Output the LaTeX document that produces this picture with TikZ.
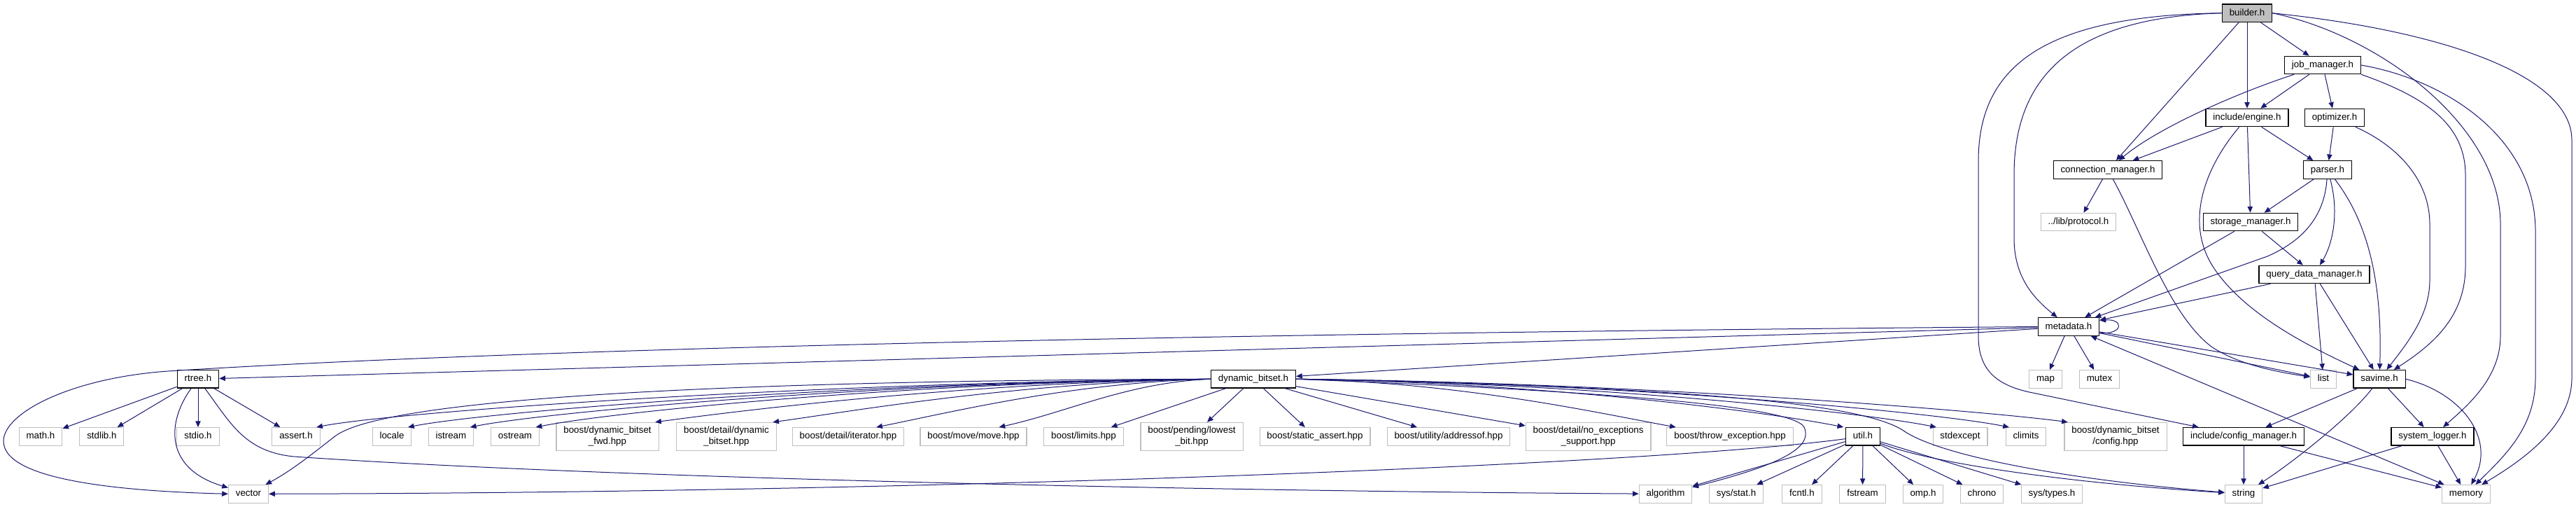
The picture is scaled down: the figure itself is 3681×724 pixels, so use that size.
\documentclass[tikz,border=0pt]{standalone}
\usepackage{fontspec}
\setmainfont{Liberation Sans}
\usetikzlibrary{arrows.meta,calc}
\definecolor{edgeblue}{HTML}{191970}
\definecolor{boxgray}{HTML}{BFBFBF}

\begin{document}
\begin{tikzpicture}[x=0.75pt,y=-0.75pt,
  >={Triangle[length=6.5pt,width=5.5pt]},
  file/.style={draw=black,line width=0.9pt,fill=white,font=\fontsize{10}{12}\selectfont,inner xsep=7.8pt,inner ysep=4.7pt,text height=7.5pt,text depth=2.2pt},
  sysfile/.style={file,draw=boxgray,line width=0.8pt},
  twoline/.style={align=center,text height={},text depth={},inner ysep=4.3pt},
  dep/.style={->,draw=edgeblue,line width=0.75pt}]
  \useasboundingbox (0,0) rectangle (3681,724);

  \node[file,fill=boxgray] (builder) at (3211,18.7) {builder.h};
  \node[file] (jobmgr) at (3319,93) {job\_manager.h};
  \node[file] (engine) at (3211,168) {include/engine.h};
  \node[file] (optim) at (3336,168) {optimizer.h};
  \node[file] (connmgr) at (3012,242.5) {connection\_manager.h};
  \node[file] (parser) at (3326,242.5) {parser.h};
  \node[sysfile] (protocol) at (2970,317) {../lib/protocol.h};
  \node[file] (storage) at (3216,317) {storage\_manager.h};
  \node[file] (querydm) at (3307,392) {query\_data\_manager.h};
  \node[file] (metadata) at (2956,466.5) {metadata.h};

  \node[file] (rtree) at (283,541.3) {rtree.h};
  \node[file] (dynbitset) at (1791,541.3) {dynamic\_bitset.h};
  \node[sysfile] (map) at (2923,541.3) {map};
  \node[sysfile] (mutex) at (3000,541.3) {mutex};
  \node[sysfile] (list) at (3320,541.3) {list};
  \node[file] (savime) at (3400,541.3) {savime.h};

  \node[sysfile] (mathh) at (58,623.3) {math.h};
  \node[sysfile] (stdlibh) at (145.4,623.3) {stdlib.h};
  \node[sysfile] (stdioh) at (283,623.3) {stdio.h};
  \node[sysfile] (asserth) at (423,623.3) {assert.h};
  \node[sysfile] (locale) at (560,623.3) {locale};
  \node[sysfile] (istream) at (644.4,623.3) {istream};
  \node[sysfile] (ostream) at (736,623.3) {ostream};
  \node[sysfile,twoline] (bsfwd) at (868,623.3) {boost/dynamic\_bitset\\\_fwd.hpp};
  \node[sysfile,twoline] (bdetaildyn) at (1038,623.3) {boost/detail/dynamic\\\_bitset.hpp};
  \node[sysfile] (biter) at (1212,623.3) {boost/detail/iterator.hpp};
  \node[sysfile] (bmove) at (1391,623.3) {boost/move/move.hpp};
  \node[sysfile] (blimits) at (1548.5,623.3) {boost/limits.hpp};
  \node[sysfile,twoline] (blowest) at (1703,623.3) {boost/pending/lowest\\\_bit.hpp};
  \node[sysfile] (bstatic) at (1879,623.3) {boost/static\_assert.hpp};
  \node[sysfile] (baddr) at (2070,623.3) {boost/utility/addressof.hpp};
  \node[sysfile,twoline] (bnoexc) at (2269.6,623.3) {boost/detail/no\_exceptions\\\_support.hpp};
  \node[sysfile] (bthrow) at (2472,623.3) {boost/throw\_exception.hpp};
  \node[file] (util) at (2662,623.3) {util.h};
  \node[sysfile] (stdexcept) at (2801,623.3) {stdexcept};
  \node[sysfile] (climits) at (2895,623.3) {climits};
  \node[sysfile,twoline] (bconfig) at (3023,623.3) {boost/dynamic\_bitset\\/config.hpp};
  \node[file] (cfgmgr) at (3206,623.3) {include/config\_manager.h};
  \node[file] (syslog) at (3476,623.3) {system\_logger.h};

  \node[sysfile] (vector) at (355,705.3) {vector};
  \node[sysfile] (algorithm) at (2380,705.3) {algorithm};
  \node[sysfile] (sysstat) at (2481,705.3) {sys/stat.h};
  \node[sysfile] (fcntl) at (2575,705.3) {fcntl.h};
  \node[sysfile] (fstream) at (2661.5,705.3) {fstream};
  \node[sysfile] (omp) at (2748,705.3) {omp.h};
  \node[sysfile] (chrono) at (2832,705.3) {chrono};
  \node[sysfile] (systypes) at (2932,705.3) {sys/types.h};
  \node[sysfile] (string) at (3206,705.3) {string};
  \node[sysfile] (memory) at (3524,705.3) {memory};

  \draw[dep] (builder) -- (jobmgr);
  \draw[dep] (builder) -- (engine);
  \draw[dep] (builder) -- (connmgr);
  \draw[dep] (builder.west) .. controls (2960,25) and (2878,110) .. (2878,250) -- (2878,340) .. controls (2878,395) and (2905,425) .. (metadata);
  \draw[dep] (builder.west) .. controls (2920,22) and (2827,95) .. (2827,230) -- (2827,480) .. controls (2827,530) and (2855,550) .. (2900,560) -- (cfgmgr);
  \draw[dep] (builder.east) .. controls (3400,50) and (3573,180) .. (3573,320) -- (3573,480) .. controls (3573,540) and (3525,580) .. (syslog);
  \draw[dep] (builder.east) .. controls (3500,45) and (3675,110) .. (3675,200) -- (3675,540) .. controls (3675,610) and (3600,660) .. (memory);

  \draw[dep] (jobmgr) .. controls (3190,135) and (3080,185) .. (connmgr);
  \draw[dep] (jobmgr) -- (engine);
  \draw[dep] (jobmgr) -- (optim);
  \draw[dep] (jobmgr.south east) .. controls (3470,140) and (3523,180) .. (3523,250) -- (3523,380) .. controls (3523,450) and (3480,490) .. (savime);
  \draw[dep] (jobmgr.east) .. controls (3500,115) and (3623,200) .. (3623,330) -- (3623,540) .. controls (3623,610) and (3580,650) .. (memory);

  \draw[dep] (engine) -- (connmgr);
  \draw[dep] (engine) -- (parser);
  \draw[dep] (engine) -- (storage);
  \draw[dep] (engine) .. controls (3150,240) and (3120,320) .. (3165,385) .. controls (3210,450) and (3300,495) .. (savime);

  \draw[dep] (optim) -- (parser);
  \draw[dep] (optim) .. controls (3430,210) and (3472,260) .. (3472,320) -- (3472,400) .. controls (3472,450) and (3440,490) .. (savime);

  \draw[dep] (connmgr) -- (protocol);
  \draw[dep] (connmgr) .. controls (3060,330) and (3100,450) .. (3160,495) .. controls (3200,522) and (3260,532) .. (list);

  \draw[dep] (parser) -- (storage);
  \draw[dep] (parser) .. controls (3342,300) and (3335,345) .. (querydm);
  \draw[dep] (parser) .. controls (3322,300) and (3300,340) .. (3240,366) -- (metadata);
  \draw[dep] (parser) .. controls (3378,310) and (3405,390) .. (savime);

  \draw[dep] (storage) -- (metadata);
  \draw[dep] (storage) -- (querydm);

  \draw[dep] (querydm) -- (metadata);
  \draw[dep] (querydm) -- (list);
  \draw[dep] (querydm) -- (savime);

  \draw[dep] ($(metadata.east)+(0,9)$) .. controls (3035,478) and (3035,455) .. ($(metadata.east)+(0,-9)$);
  \draw[dep] (metadata) -- (map);
  \draw[dep] (metadata) -- (mutex);
  \draw[dep] (metadata) -- (list);
  \draw[dep] (metadata) -- (savime);
  \draw[dep,<->] (metadata) -- (memory);
  \draw[dep] (metadata) -- (rtree);
  \draw[dep] (metadata) -- (dynbitset);
  \draw[dep] (metadata.west) .. controls (2200,472) and (900,488) .. (240,530) .. controls (100,540) and (5,590) .. (5,630) .. controls (5,690) and (200,702) .. (vector.west);

  \draw[dep] (rtree) -- (mathh);
  \draw[dep] (rtree) -- (stdlibh);
  \draw[dep] (rtree) -- (stdioh);
  \draw[dep] (rtree) -- (asserth);
  \draw[dep] (rtree) .. controls (240,600) and (232,668) .. (vector);
  \draw[dep] (rtree) .. controls (330,605) and (350,645) .. (420,652) .. controls (900,685) and (1800,702) .. (algorithm);

  \draw[dep] (dynbitset.west) .. controls (1100,543) and (560,565) .. (480,622) .. controls (450,645) and (420,670) .. (vector);
  \draw[dep] (dynbitset.west) .. controls +(-572,5) and +(110,-22) .. ([xshift=-4pt]asserth.north east);
  \draw[dep] (dynbitset.west) .. controls +(-514,5) and +(110,-22) .. ([xshift=-4pt]locale.north east);
  \draw[dep] (dynbitset.west) .. controls +(-474,5) and +(110,-22) .. ([xshift=-4pt]istream.north east);
  \draw[dep] (dynbitset.west) .. controls +(-432,5) and +(110,-22) .. ([xshift=-4pt]ostream.north east);
  \draw[dep] (dynbitset.west) .. controls +(-355,5) and +(110,-15) .. ([xshift=-4pt]bsfwd.north east);
  \draw[dep] (dynbitset.west) .. controls +(-279,5) and +(110,-15) .. ([xshift=-4pt]bdetaildyn.north east);
  \draw[dep] (dynbitset.west) .. controls +(-198,5) and +(110,-22) .. ([xshift=-30pt]biter.north east);
  \draw[dep] (dynbitset.west) .. controls +(-119,5) and +(100,-22) .. ([xshift=-30pt]bmove.north east);
  \draw[dep] (dynbitset) -- (blimits);
  \draw[dep] (dynbitset) -- (blowest);
  \draw[dep] (dynbitset) -- (bstatic);
  \draw[dep] (dynbitset) -- (baddr);
  \draw[dep] (dynbitset) -- (bnoexc);
  \draw[dep] (dynbitset.east) .. controls +(239,5) and +(-110,-20) .. ([xshift=10pt]bthrow.north west);
  \draw[dep] (dynbitset.east) .. controls +(353,5) and +(-110,-22) .. ([xshift=-2pt]util.north west);
  \draw[dep] (dynbitset.east) .. controls +(410,5) and +(-110,-22) .. ([xshift=4pt]stdexcept.north west);
  \draw[dep] (dynbitset.east) .. controls +(456,5) and +(-110,-22) .. ([xshift=4pt]climits.north west);
  \draw[dep] (dynbitset.east) .. controls +(494,5) and +(-110,-15) .. ([xshift=4pt]bconfig.north west);
  \draw[dep] (dynbitset.east) .. controls (2200,555) and (2560,575) .. (2578,610) .. controls (2592,640) and (2540,665) .. (algorithm);
  \draw[dep] (dynbitset.east) .. controls (2400,552) and (2660,575) .. (2720,615) .. controls (2770,650) and (2950,685) .. (string);

  \draw[dep] (util) .. controls (2350,665) and (1300,704) .. (vector);
  \draw[dep] (util) -- (algorithm);
  \draw[dep] (util) -- (sysstat);
  \draw[dep] (util) -- (fcntl);
  \draw[dep] (util) -- (fstream);
  \draw[dep] (util) -- (omp);
  \draw[dep] (util) -- (chrono);
  \draw[dep] (util) -- (systypes);
  \draw[dep] (util) .. controls (2760,662) and (2960,690) .. (string);

  \draw[dep] (savime) -- (cfgmgr);
  \draw[dep] (savime) .. controls (3355,600) and (3265,668) .. (string);
  \draw[dep] (savime) -- (syslog);
  \draw[dep] (savime.east) .. controls (3515,560) and (3568,625) .. (memory);

  \draw[dep] (cfgmgr) -- (string);
  \draw[dep] (cfgmgr) -- (memory);
  \draw[dep] (syslog) -- (string);
  \draw[dep] (syslog) -- (memory);
\end{tikzpicture}
\end{document}
